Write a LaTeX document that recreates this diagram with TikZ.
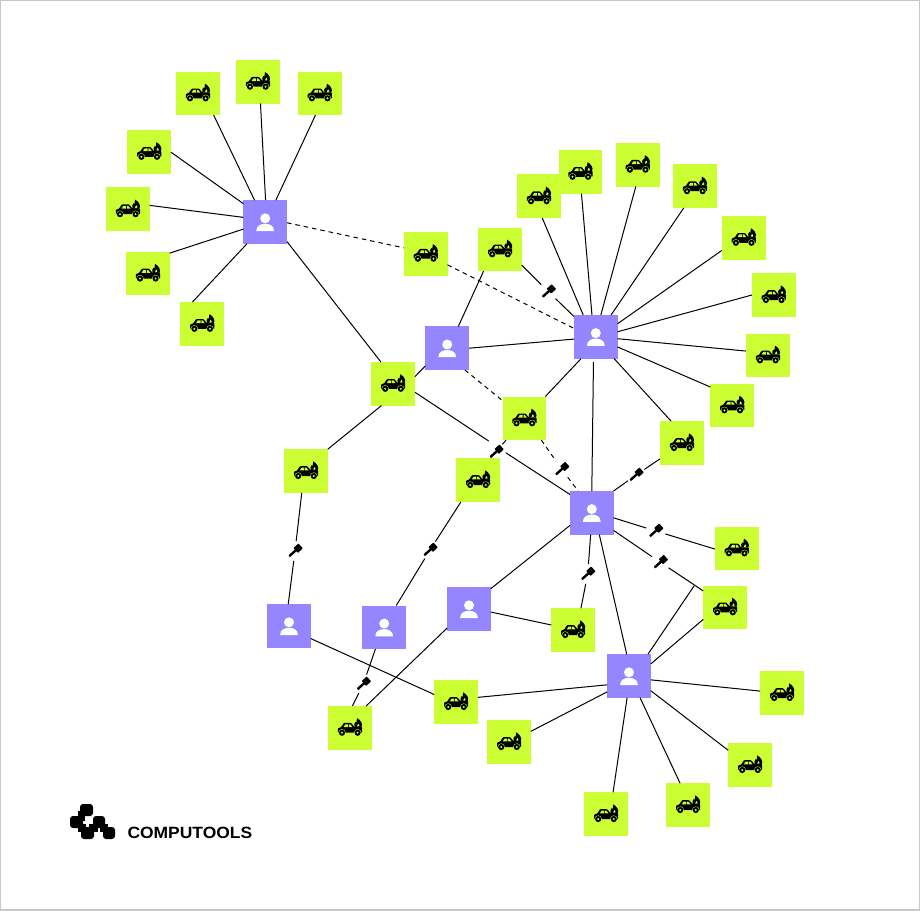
\documentclass[tikz,border=0pt]{standalone}
\usepackage{fontspec}
\setmainfont{Liberation Sans}
\newfontfamily\logofont[FakeStretch=1.07]{Liberation Sans}
\definecolor{lime}{HTML}{CCFF33}
\definecolor{iris}{HTML}{9585FF}
\usetikzlibrary{arrows.meta,positioning,calc}
\tikzset{
  userbox/.style={rectangle,fill=iris,minimum size=43.6pt,inner sep=0pt,outer sep=0pt},
  carbox/.style={rectangle,fill=lime,minimum size=43.6pt,inner sep=0pt,outer sep=0pt},
  keyspot/.style={circle,minimum size=20pt,inner sep=0pt,outer sep=0pt},
  userface/.pic={
    \fill[white] (0,-3.7) circle (5);
    \fill[white] (-8.9,9) .. controls (-8.9,3.5) and (-4,1.8) .. (0,1.8) .. controls (4,1.8) and (8.9,3.5) .. (8.9,9) -- cycle;
  },
  carfire/.pic={
    \fill[black,rounded corners=0.7pt] (-12,5) -- (-12,0.6) -- (-8.9,-0.4) -- (-6,-4.8) -- (1.2,-4.8) -- (4.6,-0.8) -- (12.2,-0.8) -- (12.2,5) -- cycle;
    \fill[lime] (-6.2,-0.6) -- (-4.5,-3.4) -- (-1.6,-3.4) -- (-1.6,-0.6) -- cycle;
    \fill[lime] (-0.8,-3.4) -- (0.4,-3.4) -- (2.6,-0.6) -- (-0.8,-0.6) -- cycle;
    \fill[lime] (-7.8,5) circle (3.6);
    \fill[lime] (7.8,5) circle (3.6);
    \fill[black] (-7.8,5) circle (3.1);
    \fill[black] (7.8,5) circle (3.1);
    \fill[lime] (-7.8,5) circle (1.1);
    \fill[lime] (7.8,5) circle (1.1);
    \fill[black] (4.8,-0.6) .. controls (3.4,-3) and (5,-4.6) .. (5.6,-5.8) .. controls (6,-5.4) and (6.3,-5.2) .. (6.6,-5) .. controls (7.2,-6.4) and (7.4,-8) .. (7.2,-9.6) .. controls (10.6,-8) and (13.6,-3.6) .. (11.6,-0.6) -- cycle;
    \fill[lime] (7.4,-1.3) .. controls (6.9,-2.4) and (8,-3) .. (8.4,-4) .. controls (9.4,-3.2) and (9.9,-2.2) .. (9.4,-1.3) -- cycle;
  },
  keymark/.pic={
    \begin{scope}[rotate=42]
      \fill[black,rounded corners=0.5pt] (-7.8,-1.2) rectangle (1.5,1.2);
      \fill[black,rounded corners=0.6pt] (0.8,-3.3) rectangle (7.6,3.3);
    \end{scope}
  }
}
\begin{document}
\begin{tikzpicture}[x=1pt,y=-1pt,line width=1pt]
\useasboundingbox (0,0) rectangle (920,910);
\draw[line width=1.5pt,color=black!22] (0,0) rectangle (920,910);
\node (u1) [userbox] at (265.2,222) {};
\node (u2) [userbox] at (447.2,348.2) {};
\node (u3) [userbox] at (595.8,336.8) {};
\node (u4) [userbox] at (591.8,512.8) {};
\node (u5) [userbox] at (289,626) {};
\node (u6) [userbox] at (384.2,627.3) {};
\node (u7) [userbox] at (469,609) {};
\node (u8) [userbox] at (629,676) {};
\node (c1) [carbox] at (197.8,93.3) {};
\node (c2) [carbox] at (257.8,81.7) {};
\node (c3) [carbox] at (319.7,93.3) {};
\node (c4) [carbox] at (149.2,151.8) {};
\node (c5) [carbox] at (127.8,209.2) {};
\node (c6) [carbox] at (147.8,273.5) {};
\node (c7) [carbox] at (202.2,323.8) {};
\node (c8) [carbox] at (425.7,253.7) {};
\node (c9) [carbox] at (500,249.3) {};
\node (c10) [carbox] at (538.8,196.2) {};
\node (c11) [carbox] at (580.3,171.8) {};
\node (c12) [carbox] at (637.7,164.7) {};
\node (c13) [carbox] at (694.8,186.2) {};
\node (c14) [carbox] at (743.7,237.8) {};
\node (c15) [carbox] at (773.7,295) {};
\node (c16) [carbox] at (767.8,355.3) {};
\node (c17) [carbox] at (732.2,405.3) {};
\node (c18) [carbox] at (681.8,443) {};
\node (c19) [carbox] at (393,383.8) {};
\node (c20) [carbox] at (524.3,418.3) {};
\node (c21) [carbox] at (306,471) {};
\node (c22) [carbox] at (478,480) {};
\node (c23) [carbox] at (736.7,548.3) {};
\node (c24) [carbox] at (725,607.3) {};
\node (c25) [carbox] at (573,630) {};
\node (c26) [carbox] at (456,702) {};
\node (c27) [carbox] at (349.8,727.7) {};
\node (c28) [carbox] at (509,742) {};
\node (c29) [carbox] at (782,693) {};
\node (c30) [carbox] at (750,765) {};
\node (c31) [carbox] at (688,805) {};
\node (c32) [carbox] at (606,814) {};
\node (k1) [keyspot] at (548.3,291.7) {};
\node (k2) [keyspot] at (496,452) {};
\node (k3) [keyspot] at (561.7,469.3) {};
\node (k4) [keyspot] at (636,475) {};
\node (k5) [keyspot] at (655.7,531) {};
\node (k6) [keyspot] at (660.3,562.3) {};
\node (k7) [keyspot] at (587.7,574) {};
\node (k8) [keyspot] at (363.3,684) {};
\node (k9) [keyspot] at (295,551) {};
\node (k10) [keyspot] at (430,550) {};
\coordinate (j1) at (694,586);
\coordinate (j2) at (488.7,441);
\coordinate (j3) at (505.7,452.7);
\draw (c1.-54.5) -- (u1.116);
\draw (c2.-83) -- (u1.89);
\draw (c3.-101.5) -- (u1.64);
\draw (c4.-1) -- (u1.140);
\draw (c5.10) -- (u1.168);
\draw (c6.43.5) -- (u1.198);
\draw (c7.114.4) -- (u1.230);
\draw (u1.-42) -- (c19.119.4);
\draw (c10.-81) -- (u3.120.4);
\draw (c11.-87.4) -- (u3.100);
\draw (c12.-95) -- (u3.77);
\draw (c13.-117) -- (u3.55.6);
\draw (c14.210) -- (u3.31.6);
\draw (c15.180) -- (u3.13);
\draw (c16.169) -- (u3.-5.7);
\draw (c17.140) -- (u3.-25.6);
\draw (c18.116.8) -- (u3.-50.7);
\draw (c20.46.6) -- (u3.236);
\draw[shorten <=3.5pt] (u3.-96) -- (u4.90);
\draw (u2.0) -- (u3.186);
\draw (u2.63) -- (c9.233.6);
\draw (u2.219) -- (c19.18);
\draw (c9.-36.7) -- (k1);
\draw (k1) -- (u3.137);
\draw (c19.-21) -- (j2);
\draw (j3) -- (u4.140);
\draw (c20) -- (k2);
\draw (c18.216) -- (k4);
\draw (k4) -- (u4.45);
\draw (u4.-13.6) -- (k5);
\draw (k5) -- (c23.182);
\draw (u4.-39) -- (k6);
\draw (k6) -- (c24.143);
\draw (u4.-93) -- (k7);
\draw (k7) -- (c25.70);
\draw (u4.-71) -- (u8.96.5);
\draw (u4.210.6) -- (u7.43.6);
\draw (u7.-8) -- (c25.167);
\draw (c27.53) -- (u7.221);
\draw (c24.209.7) -- (u8.29);
\draw (u8.49.5) -- (j1);
\draw (c26.12.8) -- (u8.202);
\draw (c28.26.6) -- (u8.216);
\draw (c29.175) -- (u8.-10);
\draw (c30.146) -- (u8.-34);
\draw (c31.110) -- (u8.-63);
\draw (c32.72) -- (u8.-95);
\draw (u5.-30) -- (c26.161.6);
\draw (c19.242) -- (c21.45);
\draw (c21.259.7) -- (k9);
\draw (k9) -- (u5.92.6);
\draw (c22.232) -- (k10);
\draw (k10) -- (u6.61);
\draw (u6.248.6) -- (k8);
\draw (k8) -- (c27.83.5);
\draw[dash pattern=on 4.5pt off 4pt] (u1.-2) -- (c8.165.8);
\draw[dash pattern=on 4.5pt off 4pt] (c8.-27.5) -- (u3.159);
\draw[dash pattern=on 4.5pt off 4pt] (u2.-51) -- (c20.141.3);
\draw[dash pattern=on 4.5pt off 4pt] (c20.-52.4) -- (k3);
\draw[dash pattern=on 4.5pt off 4pt] (k3) -- (u4.122.7);
\foreach \n in {1,...,8} \pic at (u\n) {userface};
\foreach \n in {1,...,32} \pic at (c\n) {carfire};
\foreach \n in {1,...,10} \pic at (k\n) {keymark};
\fill[black,rounded corners=3pt] (80,804) rectangle (93,816);
\fill[black,rounded corners=3pt] (70,816) rectangle (83,828);
\fill[black,rounded corners=3pt] (81,827) rectangle (94,839);
\fill[black,rounded corners=3pt] (93,816) rectangle (105,828);
\fill[black,rounded corners=3pt] (103,827) rectangle (115,839);
\fill[black] (78,811) rectangle (85,821);
\fill[black] (78,824) rectangle (86,832);
\fill[black] (89,824) rectangle (98,832);
\fill[black] (100,824) rectangle (108,832);
\node (logo) [anchor=west,inner sep=0pt,font=\logofont\fontsize{16.3}{16.3}\selectfont\bfseries] at (127,833) {COMPUTOOLS};
\end{tikzpicture}
\end{document}
